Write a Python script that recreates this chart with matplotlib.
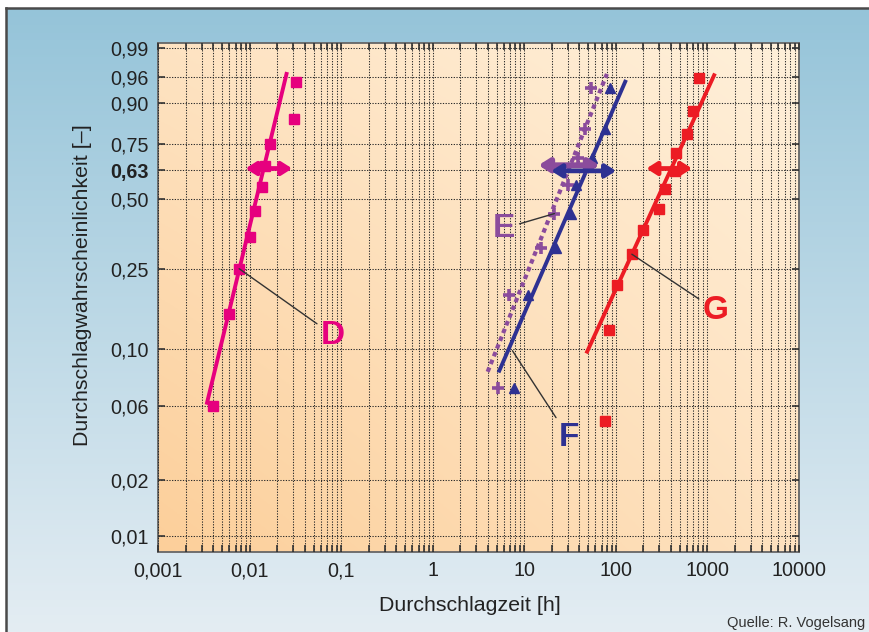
import numpy as np
import matplotlib
matplotlib.use("Agg")
import matplotlib.pyplot as plt
from matplotlib.ticker import LogLocator, FixedLocator, FixedFormatter, NullLocator

plt.rcParams['font.family'] = ['Liberation Sans', 'DejaVu Sans']

# --- Daten ---
# D: 10 Proben
t_D = [0.00397, 0.00594, 0.00766, 0.00993, 0.01146, 0.01377, 0.01466, 0.01644, 0.0301, 0.0317]
F_D = [0.05, 0.15, 0.25, 0.35, 0.45, 0.55, 0.65, 0.75, 0.85, 0.95]
# E: 8 Proben
t_E = [5.13, 6.77, 15.3, 21.4, 30.0, 39.1, 46.4, 53.9]
F_E = [0.0625, 0.1875, 0.3125, 0.4375, 0.5625, 0.6875, 0.8125, 0.9375]
# F: 8 Proben
t_F = [7.80, 10.9, 22.3, 32.6, 36.9, 54.8, 76.7, 87.1]
F_F = [0.0625, 0.1875, 0.3125, 0.4375, 0.5625, 0.6875, 0.8125, 0.9375]
# G: 12 Proben
t_G = [76.7, 84.9, 104, 150, 199, 297, 342, 441, 460, 607, 706, 815]
F_G = [0.0417, 0.125, 0.208, 0.292, 0.375, 0.458, 0.542, 0.625, 0.708, 0.792, 0.875, 0.958]

# Ausgleichsgeraden (Endpunkte)
fit_t = {'D': [0.00341, 0.0252], 'E': [3.98, 80.1], 'F': [5.34, 127], 'G': [48.7, 1190]}
fit_F = {'D': [0.052, 0.964], 'E': [0.0758, 0.964], 'F': [0.0768, 0.951], 'G': [0.0965, 0.962]}

# Vertrauensbereiche bei 63 %
ci_t = {'D': [0.00897, 0.0291], 'E': [14.3, 66.5], 'F': [19.7, 101], 'G': [216, 684]}
ci_F = {'D': 0.637, 'E': 0.652, 'F': 0.626, 'G': 0.637}

# Beschriftungen: Textposition und Zielpunkt
lab_pos = {'D': (0.0811, 0.1175), 'E': (6.05, 0.380), 'F': (30.6, 0.0341), 'G': (1241, 0.157)}
lab_target = {'D': (t_D[2], F_D[2]), 'E': (t_E[3], F_E[3]), 'F': (7.43, 0.0976), 'G': (t_G[3], F_G[3])}

y_ticks = [0.01, 0.02, 0.05, 0.10, 0.25, 0.50, 0.63, 0.75, 0.90, 0.96, 0.99]
y_labels = ['0,01', '0,02', '0,06', '0,10', '0,25', '0,50', '0,63', '0,75', '0,90', '0,96', '0,99']
x_ticks = [0.001, 0.01, 0.1, 1, 10, 100, 1000, 10000]
x_labels = ['0,001', '0,01', '0,1', '1', '10', '100', '1000', '10000']

colors = {'D': '#e6007e', 'E': '#8b4c9c', 'F': '#2e3192', 'G': '#ec1c24'}


def fwd(p):
    p = np.clip(np.asarray(p, dtype=float), 1e-9, 1 - 1e-12)
    return np.log(-np.log(1 - p))


def inv(y):
    return 1 - np.exp(-np.exp(y))


W, H = 869, 632
fig = plt.figure(figsize=(W / 100, H / 100), dpi=100)
fig.patch.set_facecolor('white')

# Hintergrund (blauer Verlauf)
bg = fig.add_axes([6 / W, 0, 1 - 6 / W, 1 - 8 / H], zorder=-5)
grad = np.linspace(0, 1, 256)[:, None]
top_c = np.array([0x95, 0xc4, 0xd9]) / 255
bot_c = np.array([0xe4, 0xed, 0xf3]) / 255
bg_img = top_c[None, None, :] * (1 - grad[:, :, None]) + bot_c[None, None, :] * grad[:, :, None]
bg.imshow(bg_img, aspect='auto', extent=[0, 1, 0, 1])
bg.set_xlim(0, 1)
bg.set_ylim(0, 1)
bg.set_xticks([])
bg.set_yticks([])
for s in ['right', 'bottom']:
    bg.spines[s].set_visible(False)
for s in ['top', 'left']:
    bg.spines[s].set_color('#4a4a4a')
    bg.spines[s].set_linewidth(1.8)

ax = fig.add_axes([158.3 / W, 1 - 551.7 / H, 640.4 / W, 508.4 / H])
ax.set_xscale('log')
ax.set_yscale('function', functions=(fwd, inv))
ax.set_xlim(1e-3, 1e4)
ax.set_ylim(0.008188, 0.99244)

# Diagrammfläche (oranger Verlauf)
u = np.linspace(0, 1, 200)
v = np.linspace(0, 1, 200)
U, V = np.meshgrid(u, v)
c_bl = np.array([0xfc, 0xcf, 0x9a]) / 255
c_br = np.array([0xfe, 0xe2, 0xc0]) / 255
c_tl = np.array([0xfe, 0xe3, 0xc2]) / 255
c_tr = np.array([0xff, 0xf0, 0xda]) / 255
img = ((1 - U)[..., None] * (1 - V)[..., None] * c_bl + U[..., None] * (1 - V)[..., None] * c_br
       + (1 - U)[..., None] * V[..., None] * c_tl + U[..., None] * V[..., None] * c_tr)
ax.imshow(img, origin='lower', extent=[0, 1, 0, 1], transform=ax.transAxes,
          aspect='auto', zorder=0)

ax.xaxis.set_major_locator(FixedLocator(x_ticks))
ax.xaxis.set_major_formatter(FixedFormatter(x_labels))
ax.xaxis.set_minor_locator(LogLocator(base=10, subs=np.arange(2, 10), numticks=50))
ax.yaxis.set_major_locator(FixedLocator(y_ticks))
ax.yaxis.set_major_formatter(FixedFormatter(y_labels))
ax.yaxis.set_minor_locator(NullLocator())

ax.grid(True, axis='x', which='both', ls=(0, (1.2, 1.4)), color='#2a2a2a', lw=0.75, zorder=1)
ax.grid(True, axis='y', which='major', ls=(0, (1.2, 1.4)), color='#2a2a2a', lw=0.75, zorder=1)
ax.set_axisbelow(False)

ax.tick_params(which='both', direction='in', top=True, right=True, length=5,
               width=1.2, color='#333333', labelsize=14.2, labelcolor='#222222', pad=7)
for lbl in ax.get_yticklabels():
    if lbl.get_text() == '0,63':
        lbl.set_fontweight('bold')
for s in ax.spines.values():
    s.set_color('#666666')
    s.set_linewidth(1.3)

# Ausgleichsgeraden
for k in ['D', 'E', 'F', 'G']:
    ls = (0, (1.1, 0.9)) if k == 'E' else '-'
    lw = 3.0 if k == 'E' else 2.8
    ax.plot(fit_t[k], fit_F[k], color=colors[k], lw=lw, ls=ls, zorder=3)

# Messpunkte
ax.plot(t_D, F_D, 's', color=colors['D'], ms=7.5, zorder=4)
ax.plot(t_E, F_E, '+', color=colors['E'], ms=8, mew=2.6, zorder=4)
ax.plot(t_F, F_F, '^', color=colors['F'], ms=7, zorder=4)
ax.plot(t_G, F_G, 's', color=colors['G'], ms=7.5, zorder=4)

# Vertrauensbereiche
for k in ['D', 'E', 'F', 'G']:
    lw = 4.2 if k == 'E' else 3.4
    ax.annotate('', xy=(ci_t[k][1], ci_F[k]), xytext=(ci_t[k][0], ci_F[k]),
                arrowprops=dict(arrowstyle='<|-|>,head_length=0.6,head_width=0.38',
                                color=colors[k], lw=lw, shrinkA=0, shrinkB=0),
                zorder=5)

# Buchstaben mit Hinweislinien
for k in ['D', 'E', 'F', 'G']:
    ax.annotate(k, xy=lab_target[k], xytext=lab_pos[k], ha='center', va='center',
                fontsize=24, fontweight='bold', color=colors[k],
                arrowprops=dict(arrowstyle='-', color='#333333', lw=1.0,
                                shrinkA=1, shrinkB=0),
                zorder=6)

ax.set_xlabel('Durchschlagzeit [h]', fontsize=15.4, color='#222222', va='center')
ax.xaxis.set_label_coords(0.486, -0.105)
ax.set_ylabel('Durchschlagwahrscheinlichkeit [–]', fontsize=15.4, color='#222222', va='center')
ax.yaxis.set_label_coords(-0.1176, 0.525)

fig.text(865 / W, 1 - 627 / H, 'Quelle: R. Vogelsang', fontsize=10.5, color='#333333',
         ha='right', va='baseline')

fig.savefig('out.png', dpi=100)
